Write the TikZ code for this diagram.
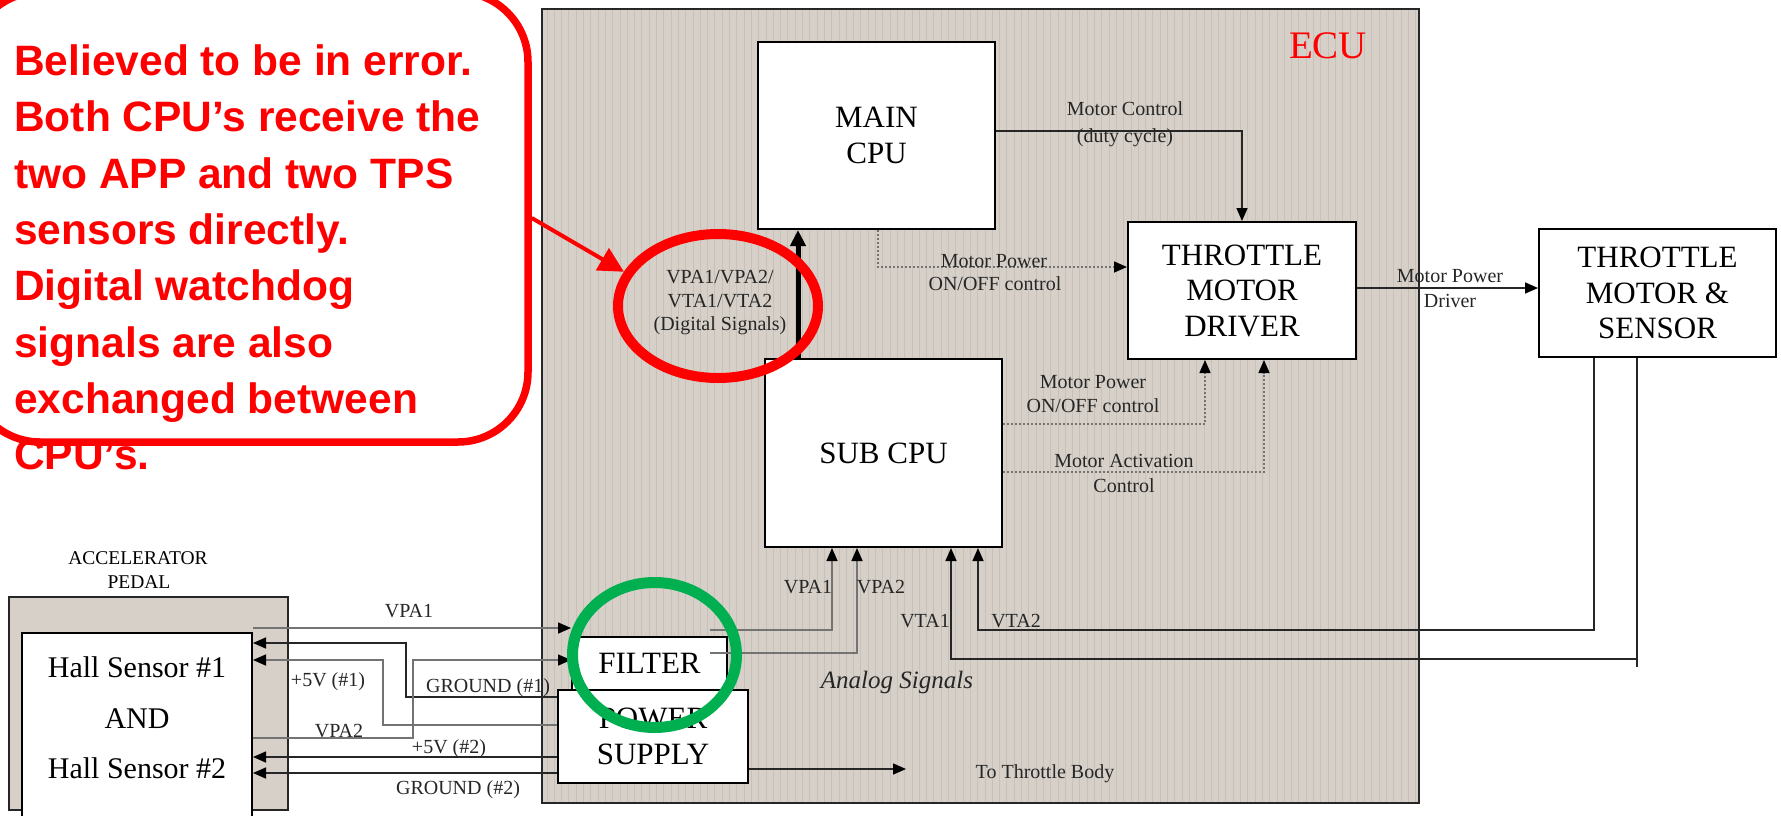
\documentclass[tikz,border=0pt]{standalone}
\usepackage{fontspec}
\setmainfont{Liberation Serif}
\newfontfamily\calloutfont{Liberation Sans}
\usetikzlibrary{arrows.meta,shapes.geometric}
\definecolor{ecubg}{RGB}{214,208,200}
\definecolor{stripecol}{RGB}{199,193,185}
\definecolor{callred}{RGB}{255,0,0}
\definecolor{ringgreen}{RGB}{0,176,80}
\begin{document}
\begin{tikzpicture}[x=1pt,y=-1pt,
  box/.style={draw=black, line width=2pt, fill=white, inner sep=0pt, align=center,
    font=\fontsize{31}{35.5}\selectfont},
  lbl/.style={anchor=base, inner sep=0pt, font=\fontsize{20}{24}\selectfont, text=black!85},
  wire/.style={line width=1.6pt, draw=black!85},
  wireg/.style={line width=1.6pt, draw=black!55},
  arr/.style={wire, -{Triangle[length=13pt,width=11pt,color=black]}},
  arrg/.style={wireg, -{Triangle[length=13pt,width=11pt,color=black]}},
  dotarr/.style={line width=1.5pt, draw=black!55, dash pattern=on 2pt off 2pt,
    -{Triangle[length=13pt,width=11pt,color=black]}},
  thickarr/.style={line width=5pt, draw=black, -{Triangle[length=16pt,width=15pt]}},
  ring/.style={ellipse, inner sep=0pt, fill=none}
]
\useasboundingbox (0,0) rectangle (1781,815);
\fill[white] (0,0) rectangle (1781,815);

% ECU background
\fill[ecubg] (542,9) rectangle (1419,803);
\foreach \sx in {547,554.3,...,1416} \draw[stripecol, line width=0.9pt] (\sx,10) -- (\sx,802);
\node[draw=black!85, line width=2pt, minimum width=877pt, minimum height=794pt, inner sep=0pt] (ecu) at (980.5,406) {};
\node[anchor=base, inner sep=0pt, text=callred, font=\fontsize{39}{44}\selectfont] (ecul) at (1328,58) {ECU};

% accelerator pedal
\node[draw=black!85, line width=2pt, fill=ecubg, minimum width=279pt, minimum height=213pt, inner sep=0pt] (pedal) at (148.5,703.5) {};
\node[draw=black, line width=2pt, fill=white, minimum width=230pt, minimum height=197pt, inner sep=0pt] (hall) at (137,731.5) {};
\node[anchor=base, inner sep=0pt, font=\fontsize{19.5}{23}\selectfont] (acc1) at (138,564) {ACCELERATOR};
\node[anchor=base, inner sep=0pt, font=\fontsize{19.5}{23}\selectfont] (acc2) at (139,588) {PEDAL};
\node[anchor=base, inner sep=0pt, font=\fontsize{30}{36}\selectfont] (hs1) at (137,677) {Hall Sensor \#1};
\node[anchor=base, inner sep=0pt, font=\fontsize{30}{36}\selectfont] (hsand) at (137,728) {AND};
\node[anchor=base, inner sep=0pt, font=\fontsize{30}{36}\selectfont] (hs2) at (137,778) {Hall Sensor \#2};

% blocks
\node[box, minimum width=237pt, minimum height=187pt] (main) at (876.5,135.5) {MAIN\\CPU};
\node[box, minimum width=228pt, minimum height=137pt] (tmd) at (1242,290.5) {THROTTLE\\MOTOR\\DRIVER};
\node[box, minimum width=237pt, minimum height=128pt] (tms) at (1657.5,293) {THROTTLE\\MOTOR \&\\SENSOR};
\node[box, minimum width=237pt, minimum height=188pt] (sub) at (883.5,453) {SUB CPU};
\node[box, minimum width=155pt, minimum height=53pt] (filter) at (649.5,663.5) {FILTER};
\node[box, minimum width=190pt, minimum height=93pt] (ps) at (653,736.5) {POWER\\SUPPLY};

% ECU connectors
\draw[arr] (main.east |- 0,131) -| (tmd.north);
\draw[dotarr] (main.south -| 878,0) |- (tmd.west |- 0,267);
\draw[thickarr] (sub.north -| 798,0) -- (main.south -| 798,0);
\draw[arr] (tmd.east |- 0,288) -- (tms.west |- 0,288);
\draw[dotarr] (sub.east |- 0,424) -| (tmd.south -| 1205,0);
\draw[dotarr] (sub.east |- 0,472) -| (tmd.south -| 1264,0);

\coordinate (f1) at (710,630);
\coordinate (f2) at (710,653);
\draw[arrg] (f1) -| (sub.south -| 832,0);
\draw[arrg] (f2) -| (sub.south -| 857,0);

\coordinate (vta2k) at (978,630);
\draw[arr] (tms.south -| 1594,0) |- (vta2k) -- (sub.south -| vta2k);
\coordinate (vta1k) at (951,659);
\coordinate (vta1e) at (1637,667);
\draw[wire] (tms.south -| vta1e) -- (vta1e);
\draw[arr] (vta1e |- vta1k) -| (sub.south -| vta1k);

% pedal connectors
\draw[arrg] (hall.east |- 0,628) -- (filter.west |- 0,628);
\coordinate (p5a) at (406,643);
\draw[arr] (ps.west |- 0,697) -| (p5a) -- (hall.east |- p5a);
\coordinate (g1a) at (383,660);
\draw[arrg] (ps.west |- 0,725) -| (g1a) -- (hall.east |- g1a);
\coordinate (v2a) at (413,660);
\draw[arrg] (hall.east |- 0,738) -| (v2a) -- (filter.west |- v2a);
\draw[arr] (ps.west |- 0,757) -- (hall.east |- 0,757);
\draw[arr] (ps.west |- 0,773) -- (hall.east |- 0,773);
\coordinate (ttb) at (906,769);
\draw[arr] (ps.east |- ttb) -- (ttb);

% labels
\node[lbl] (mc1) at (1125,115) {Motor Control};
\node[lbl] (mc2) at (1125,142) {(duty cycle)};
\node[lbl] (mp1) at (994,267) {Motor Power};
\node[lbl] (mp2) at (995,290) {ON/OFF control};
\node[lbl] (dg1) at (720,283) {VPA1/VPA2/};
\node[lbl] (dg2) at (720,307) {VTA1/VTA2};
\node[lbl] (dg3) at (720,330) {(Digital Signals)};
\node[lbl] (md1) at (1450,282) {Motor Power};
\node[lbl] (md2) at (1450,307) {Driver};
\node[lbl] (sp1) at (1093,388) {Motor Power};
\node[lbl] (sp2) at (1093,412) {ON/OFF control};
\node[lbl] (ma1) at (1124,467) {Motor Activation};
\node[lbl] (ma2) at (1124,492) {Control};
\node[lbl] (lvpa1) at (808,593) {VPA1};
\node[lbl] (lvpa2) at (881,593) {VPA2};
\node[lbl] (lvta1) at (925,627) {VTA1};
\node[lbl] (lvta2) at (1016,627) {VTA2};
\node[lbl, font=\fontsize{25}{30}\selectfont\itshape] (analog) at (897,688) {Analog Signals};
\node[lbl] (ttbl) at (1045,778) {To Throttle Body};
\node[lbl] (avpa1) at (409,617) {VPA1};
\node[lbl] (a5v1) at (328,686) {+5V (\#1)};
\node[lbl] (agnd1) at (488,692) {GROUND (\#1)};
\node[lbl] (avpa2) at (339,737) {VPA2};
\node[lbl] (a5v2) at (449,753) {+5V (\#2)};
\node[lbl] (agnd2) at (458,794) {GROUND (\#2)};

% callout
\node[draw=callred, line width=7.5pt, rounded corners=70pt, fill=white, minimum width=558pt, minimum height=450pt, inner sep=0pt] (callout) at (249,217) {};
\node[anchor=north west, inner sep=0pt, align=left, text=callred,
  font=\calloutfont\bfseries\fontsize{42.5}{56.3}\selectfont] (calltext) at (14,44.6)
  {Believed to be in error.\\Both CPU’s receive the\\two APP and two TPS\\sensors directly.\\Digital watchdog\\signals are also\\exchanged between\\CPU’s.};
\node[ring, draw=callred, line width=10pt, minimum width=200pt, minimum height=144pt] (redring) at (718,306) {};
\draw[callred, line width=4pt, -{Triangle[length=25pt,width=25pt]}] (callout.east |- 0,218) -- (redring.160);
\node[ring, draw=ringgreen, line width=11pt, minimum width=164pt, minimum height=145pt] (greenring) at (654.5,655) {};
\end{tikzpicture}
\end{document}
